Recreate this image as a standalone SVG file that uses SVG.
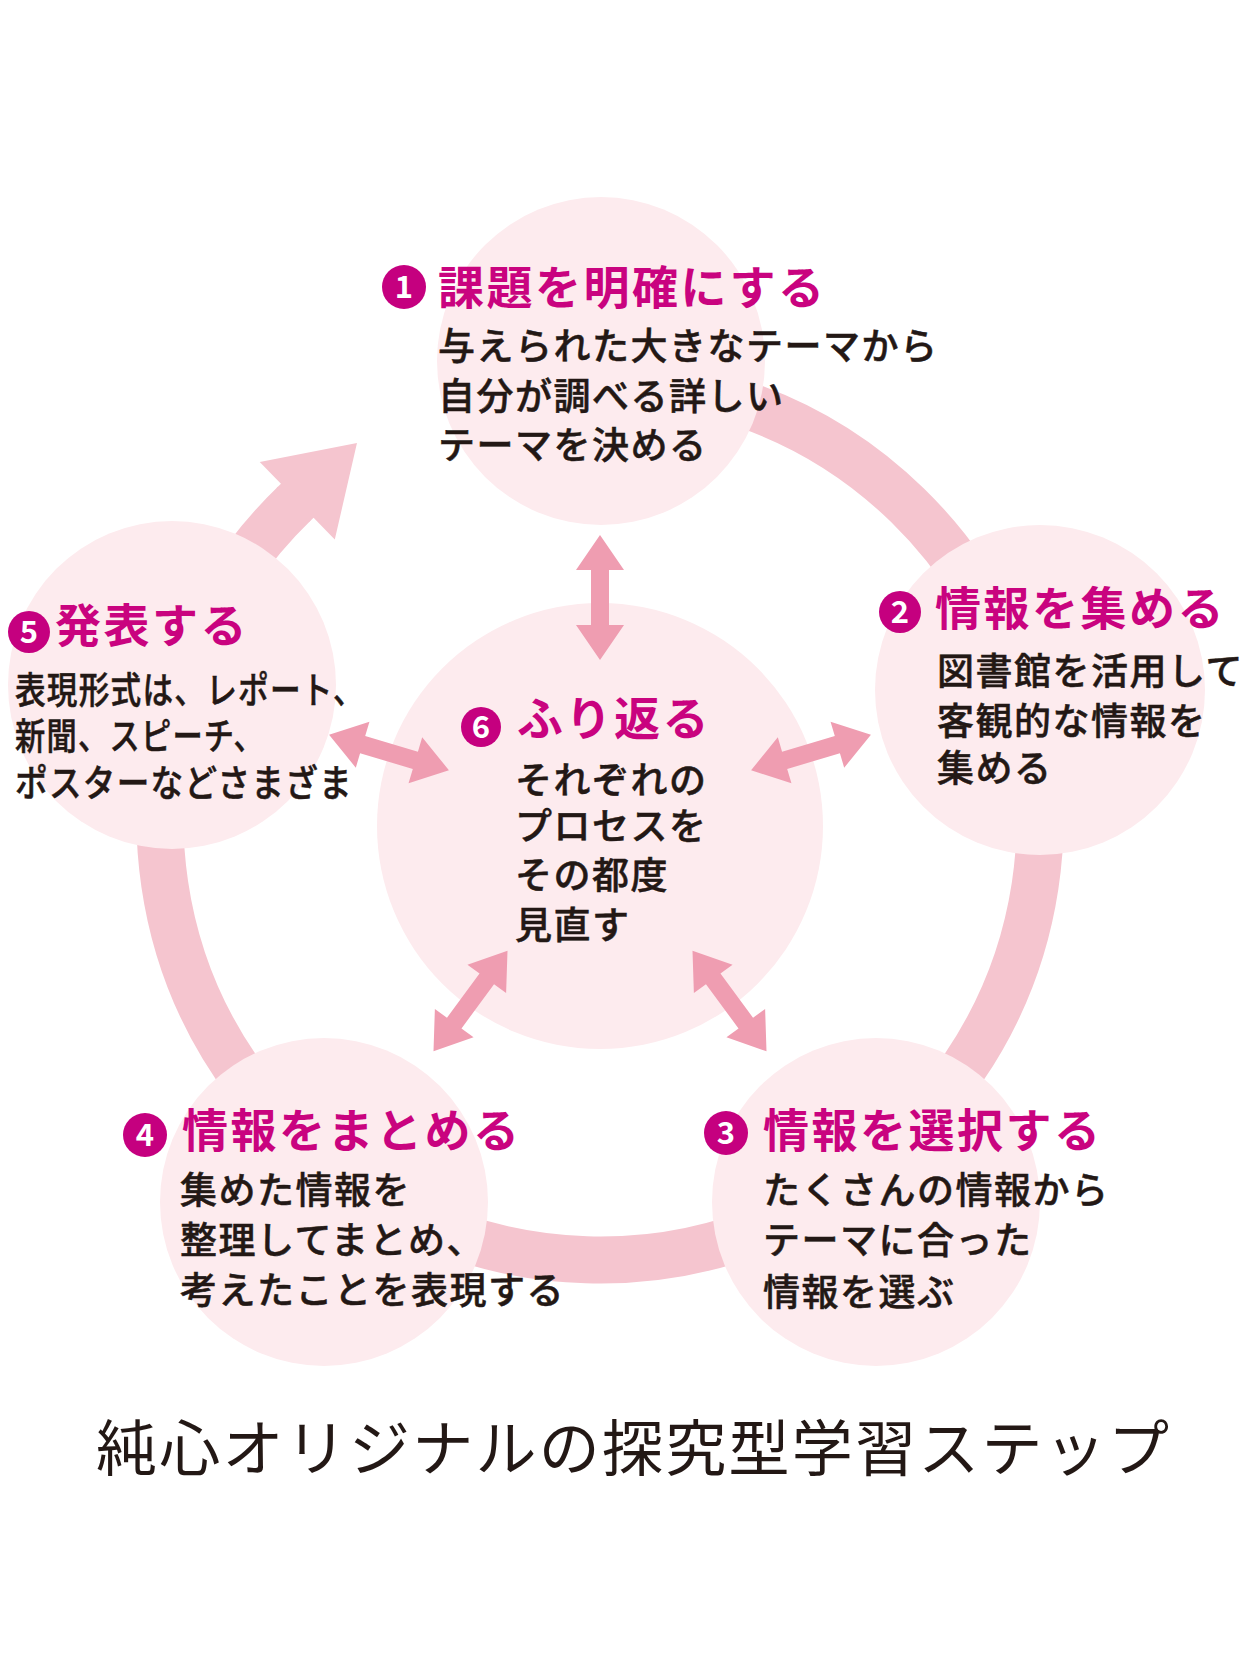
<svg xmlns="http://www.w3.org/2000/svg" width="1254" height="1672" viewBox="0 0 1254 1672">
<style>
.bg{fill:#ffffff}
.ring{fill:none;stroke:#f5c5cf;stroke-width:47}
.ringhead{fill:#f5c5cf}
.node{fill:#fdebee}
.dbl{fill:#ef9db1}
.badge{fill:#c5007f}
.t{font-family:"Noto Sans CJK JP","Noto Sans CJK SC",sans-serif}
.ttl{font-size:46px;font-weight:700;fill:#c9037f;letter-spacing:2.5px}
.bd{font-size:37px;font-weight:500;fill:#231815;letter-spacing:1.5px;stroke:#231815;stroke-width:0.5px}
.num{font-size:31px;font-weight:700;fill:#ffffff;text-anchor:middle}
.cap{font-size:61px;font-weight:400;fill:#231815}
</style>
<defs>
<path id="dblarrow" d="M-62.5,0 L-27.5,-24 L-27.5,-9 L27.5,-9 L27.5,-24 L62.5,0 L27.5,24 L27.5,9 L-27.5,9 L-27.5,24 Z"/>
</defs>
<rect class="bg" x="0" y="0" width="1254" height="1672"/>
<g id="connectors">
<path id="cycle-ring" class="ring" d="M523.6,386.7 A440,440 0 1 1 294.4,503.5"/>
<path id="cycle-head" class="ringhead" transform="translate(294.4,503.5) rotate(-44)" d="M-2,-23.5 L4,-23.5 L4,-54 L87,0 L4,54 L4,23.5 L-2,23.5 Z"/>
</g>
<g id="node1"><circle class="node" cx="601" cy="361" r="164"/></g>
<g id="node2"><circle class="node" cx="1040" cy="690" r="165"/></g>
<g id="node3"><circle class="node" cx="876" cy="1202" r="164"/></g>
<g id="node4"><circle class="node" cx="324" cy="1202" r="164"/></g>
<g id="node5"><circle class="node" cx="172" cy="685" r="164"/></g>
<g id="node6"><circle class="node" cx="600" cy="826" r="223"/></g>
<g id="links">
<use class="dbl" href="#dblarrow" transform="translate(600,597.5) rotate(90)"/>
<use class="dbl" href="#dblarrow" transform="translate(811,752.5) rotate(-16.5)"/>
<use class="dbl" href="#dblarrow" transform="translate(389,752.5) rotate(16.5)"/>
<use class="dbl" href="#dblarrow" transform="translate(729.5,1001) rotate(53.7)"/>
<use class="dbl" href="#dblarrow" transform="translate(470.5,1001) rotate(126.3)"/>
</g>
<g id="label1" class="t">
<circle class="badge" cx="404" cy="287" r="22"/>
<text class="t num" x="404" y="298">1</text>
<text class="t ttl" x="438" y="304">課題を明確にする</text>
<text class="t bd" x="438" y="360">与えられた大きなテーマから</text>
<text class="t bd" x="438" y="410">自分が調べる詳しい</text>
<text class="t bd" x="438" y="459">テーマを決める</text>
</g>
<g id="label2" class="t">
<circle class="badge" cx="900" cy="612" r="21"/>
<text class="t num" x="900" y="623">2</text>
<text class="t ttl" x="935" y="625">情報を集める</text>
<text class="t bd" x="937" y="685">図書館を活用して</text>
<text class="t bd" x="937" y="735">客観的な情報を</text>
<text class="t bd" x="937" y="782">集める</text>
</g>
<g id="label3" class="t">
<circle class="badge" cx="726" cy="1133" r="22"/>
<text class="t num" x="726" y="1144">3</text>
<text class="t ttl" x="763" y="1147">情報を選択する</text>
<text class="t bd" x="763" y="1204">たくさんの情報から</text>
<text class="t bd" x="763" y="1254">テーマに合った</text>
<text class="t bd" x="763" y="1306">情報を選ぶ</text>
</g>
<g id="label4" class="t">
<circle class="badge" cx="145" cy="1135" r="22"/>
<text class="t num" x="145" y="1146">4</text>
<text class="t ttl" x="182" y="1147">情報をまとめる</text>
<text class="t bd" x="180" y="1204">集めた情報を</text>
<text class="t bd" x="180" y="1254">整理してまとめ、</text>
<text class="t bd" x="180" y="1304">考えたことを表現する</text>
</g>
<g id="label5" class="t">
<circle class="badge" cx="29" cy="632" r="21"/>
<text class="t num" x="29" y="643">5</text>
<text class="t ttl" x="55" y="642">発表する</text>
<text class="t bd" x="15" y="704" textLength="350" lengthAdjust="spacingAndGlyphs">表現形式は、レポート、</text>
<text class="t bd" x="15" y="750" textLength="250" lengthAdjust="spacingAndGlyphs">新聞、スピーチ、</text>
<text class="t bd" x="15" y="797" textLength="338" lengthAdjust="spacingAndGlyphs">ポスターなどさまざま</text>
</g>
<g id="label6" class="t">
<circle class="badge" cx="481" cy="727" r="20"/>
<text class="t num" x="481" y="738">6</text>
<text class="t ttl" x="517" y="735">ふり返る</text>
<text class="t bd" x="515" y="794">それぞれの</text>
<text class="t bd" x="515" y="840">プロセスを</text>
<text class="t bd" x="515" y="889">その都度</text>
<text class="t bd" x="515" y="939">見直す</text>
</g>
<g id="caption">
<text class="t cap" x="96" y="1471" textLength="1073" lengthAdjust="spacing">純心オリジナルの探究型学習ステップ</text>
</g>
</svg>
